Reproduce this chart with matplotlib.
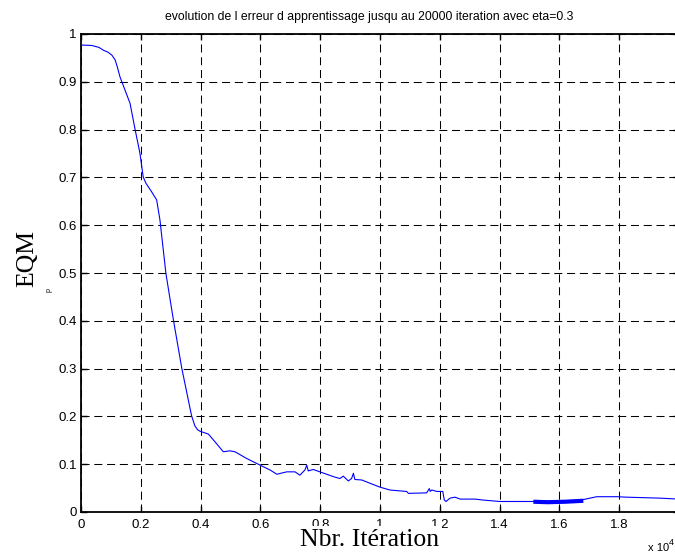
import matplotlib
matplotlib.use("Agg")
import matplotlib.pyplot as plt
from matplotlib.ticker import FixedLocator, FixedFormatter

# Training error (EQM) versus iteration count
iterations = [0, 360, 600, 750, 900, 1030, 1140, 1220, 1300, 1470, 1640, 1810,
              1970, 2080, 2170, 2360, 2530, 2640, 2840, 3090, 3370, 3590, 3700,
              3810, 3900, 3980, 4260, 4480, 4760, 4980, 5150, 5540, 5990, 6320,
              6550, 6880, 7160, 7320, 7490, 7550, 7600, 7770, 7990, 8440, 8660,
              8770, 8940, 9050, 9110, 9160, 9390, 9670, 10000, 10330, 10890,
              10950, 11560, 11650, 11680, 11730, 11900, 12100, 12150, 12210,
              12340, 12510, 12680, 13180, 13450, 14010, 15130, 15600, 16200,
              16800, 17250, 17920, 18250, 19360, 20000]
eqm = [0.977, 0.976, 0.972, 0.966, 0.962, 0.956, 0.946, 0.930, 0.911, 0.883,
       0.855, 0.800, 0.751, 0.701, 0.688, 0.670, 0.653, 0.611, 0.499, 0.402,
       0.301, 0.234, 0.201, 0.180, 0.172, 0.169, 0.163, 0.147, 0.126, 0.128,
       0.126, 0.112, 0.098, 0.088, 0.079, 0.084, 0.084, 0.077, 0.088, 0.098,
       0.086, 0.089, 0.084, 0.074, 0.070, 0.075, 0.065, 0.070, 0.081, 0.068,
       0.067, 0.060, 0.052, 0.046, 0.043, 0.039, 0.040, 0.049, 0.043, 0.046,
       0.043, 0.043, 0.025, 0.022, 0.029, 0.031, 0.027, 0.027, 0.025, 0.022,
       0.022, 0.021, 0.022, 0.026, 0.032, 0.032, 0.031, 0.029, 0.027]

# Stretch where the error oscillates rapidly (drawn as a thick band)
band_iterations = [15130, 15600, 16200, 16800]
band_eqm = [0.0215, 0.0205, 0.0215, 0.0235]

x_ticks = [0, 2000, 4000, 6000, 8000, 10000, 12000, 14000, 16000, 18000, 20000]
x_tick_labels = ["0", "0.2", "0.4", "0.6", "0.8", "1", "1.2", "1.4", "1.6", "1.8", "2"]
y_ticks = [0, 0.1, 0.2, 0.3, 0.4, 0.5, 0.6, 0.7, 0.8, 0.9, 1.0]
y_tick_labels = ["0", "0.1", "0.2", "0.3", "0.4", "0.5", "0.6", "0.7", "0.8", "0.9", "1"]

plt.rcParams["lines.scale_dashes"] = False
sans = "Liberation Sans"
serif = "Liberation Serif"

fig = plt.figure(figsize=(6.75, 5.52), dpi=100)
ax = fig.add_axes([81 / 675, 1 - 512 / 552, 598 / 675, 478 / 552])

ax.plot(iterations, eqm, color="#0000ff", linewidth=0.8, zorder=3)
ax.plot(band_iterations, band_eqm, color="#0000ff", linewidth=3.0,
        solid_capstyle="butt", zorder=3)

ax.set_xlim(0, 20000)
ax.set_ylim(0, 1)

ax.xaxis.set_major_locator(FixedLocator(x_ticks))
ax.xaxis.set_major_formatter(FixedFormatter(x_tick_labels))
ax.yaxis.set_major_locator(FixedLocator(y_ticks))
ax.yaxis.set_major_formatter(FixedFormatter(y_tick_labels))

ax.grid(True, color="black", linewidth=0.75, linestyle=(0, (5.8, 3.4)))
ax.set_axisbelow(True)

for sp in ax.spines.values():
    sp.set_linewidth(1.3)
    sp.set_color("black")

ax.tick_params(direction="in", length=4, width=1.0, top=True, right=True,
               labelsize=9.5, colors="black")
ax.tick_params(axis="x", pad=5)
ax.tick_params(axis="y", pad=3)
for lab in ax.get_xticklabels() + ax.get_yticklabels():
    lab.set_fontfamily(sans)

ax.set_title("evolution de l erreur d apprentissage jusqu au 20000 iteration avec eta=0.3",
             fontsize=8.8, fontfamily=sans, x=0.4816, pad=10)

ax.set_xlabel("Nbr. Itération", fontsize=18.5, fontfamily=serif,
              bbox=dict(boxstyle="square,pad=0.12", facecolor="white", edgecolor="none"))
ax.xaxis.set_label_coords(0.483, -0.0595)
ax.xaxis.label.set_verticalalignment("center")

ax.set_ylabel("EQM", fontsize=18.5, fontfamily=serif)
ax.yaxis.set_label_coords(-0.09, 0.53)
ax.yaxis.label.set_verticalalignment("center")

fig.text(49 / 675, 1 - 290 / 552, "p", fontsize=5, fontfamily=sans,
         rotation=90, ha="center", va="center")

fig.text(648 / 675, 1 - 551 / 552, "x 10", fontsize=8, fontfamily=sans,
         ha="left", va="baseline")
fig.text(669 / 675, 1 - 545 / 552, "4", fontsize=6.5, fontfamily=sans,
         ha="left", va="baseline")

fig.savefig("out.png", dpi=100)
